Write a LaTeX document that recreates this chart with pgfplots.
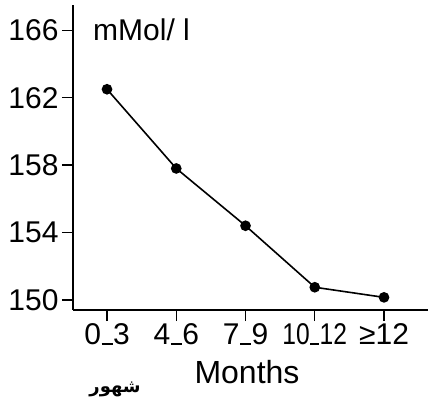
\documentclass[border=0pt]{standalone}
\usepackage{fontspec}
\setmainfont{Liberation Sans}
\newfontfamily\arabicfont[Script=Arabic]{DejaVu Sans}
\TeXXeTstate=1
\usepackage{graphicx}
\usepackage{pgfplots}
\pgfplotsset{compat=1.18}
\newcommand\us{\kern0.5pt\rule[-0.5pt]{11pt}{1.4pt}\kern0.5pt}
\begin{document}
\begin{tikzpicture}
\begin{axis}[name=ax, scale only axis, width=355pt, height=305pt,
 xmin=-0.491, xmax=4.635, ymin=149.4, ymax=167.5,
 axis lines=left, axis line style={-, line width=1.6pt},
 xtick={0,1,2,3,4},
 xticklabels={0\us3,4\us6,7\us9,\scalebox{0.82}[1]{10\us12},≥12},
 ytick={150,154,158,162,166},
 tick align=outside, major tick length=11pt, tick style={line width=1.4pt, black},
 ticklabel style={font=\fontsize{30}{32}\selectfont},
 xticklabel style={inner sep=2pt},
 /pgf/number format/assume math mode=true,
 clip=false]
\addplot[black, line width=1.6pt, mark=*, mark size=4.5pt] coordinates {(0,162.5)(1,157.8)(2,154.4)(3,150.75)(4,150.15)};
\node[anchor=west, font=\fontsize{30}{32}\selectfont] at (axis cs:-0.25,166) {mMol/ l};
\end{axis}
\node[font=\fontsize{32}{34}\selectfont] at ([shift={(174pt,-62pt)}]ax.south west) {Months};
\node[font=\fontsize{18}{20}\selectfont\bfseries] at ([shift={(42pt,-79pt)}]ax.south west) {\arabicfont\beginR شهور\endR};
\pgfresetboundingbox
\path ([shift={(-73pt,-94pt)}]ax.south west) rectangle ([shift={(0pt,5pt)}]ax.north east);
\end{tikzpicture}
\end{document}
